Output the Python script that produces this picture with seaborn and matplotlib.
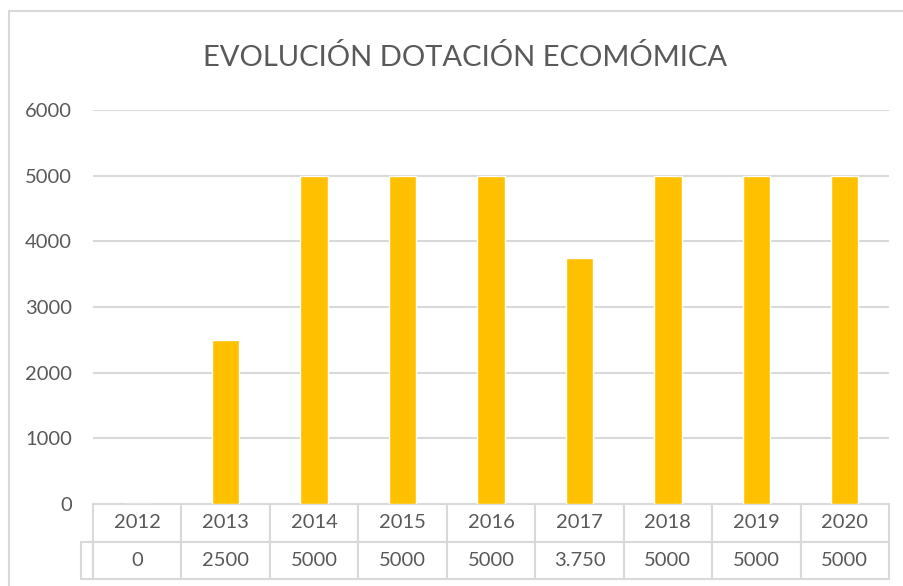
import matplotlib
matplotlib.use("Agg")
import matplotlib.pyplot as plt
import seaborn as sns
import pandas as pd
from matplotlib.patches import Rectangle
from matplotlib.lines import Line2D

# data
years = ['2012', '2013', '2014', '2015', '2016', '2017', '2018', '2019', '2020']
amounts = [0, 2500, 5000, 5000, 5000, 3750, 5000, 5000, 5000]
amount_labels = ['0', '2500', '5000', '5000', '5000', '3.750', '5000', '5000', '5000']
y_ticks = [0, 1000, 2000, 3000, 4000, 5000, 6000]

df = pd.DataFrame({'year': years, 'amount': amounts})

sns.set_theme(style="white")
plt.rcParams['font.family'] = ['Lato', 'DejaVu Sans']

text_col = '#595959'
line_col = '#D9D9D9'

fig = plt.figure(figsize=(9.04, 5.86), dpi=100)
W, H = 904, 586
ax = fig.add_axes([93 / W, 1 - 504 / H, (889 - 93) / W, (504 - 110) / H])

sns.barplot(data=df, x='year', y='amount', color='#FFC000', width=0.31,
            saturation=1, ax=ax)

ax.set_ylim(0, 6000)
ax.set_xlim(-0.5, len(years) - 0.5)
ax.set_yticks(y_ticks)
ax.set_yticklabels([str(t) for t in y_ticks], color=text_col, fontsize=14.5)
ax.tick_params(axis='y', length=0, pad=15)
ax.set_xticks([])
ax.set_xlabel('')
ax.set_ylabel('')
for s in ax.spines.values():
    s.set_visible(False)
ax.yaxis.grid(True, color=line_col, linewidth=1.5)
ax.set_axisbelow(True)

# data table under the axis
tbl_h = (579 - 504) / (504 - 110)
tbl = ax.table(cellText=[years, amount_labels], cellLoc='center',
               bbox=[0, -tbl_h, 1, tbl_h])
tbl.auto_set_font_size(False)
for (r, c), cell in tbl.get_celld().items():
    cell.set_edgecolor(line_col)
    cell.set_linewidth(1.5)
    cell.get_text().set_color(text_col)
    cell.get_text().set_fontsize(14.5)

# small empty key cell left of the value row
kw = 12 / (889 - 93)
ax.add_patch(Rectangle((-kw, -tbl_h), kw, tbl_h / 2, transform=ax.transAxes,
                       fill=False, edgecolor=line_col, linewidth=1.5, clip_on=False))

# chart area border (cut off at right and bottom)
fig.add_artist(Line2D([9 / W, 9 / W], [0, 1 - 11 / H], color=line_col, linewidth=1.5))
fig.add_artist(Line2D([9 / W, 1], [1 - 11 / H, 1 - 11 / H], color=line_col, linewidth=1.5))

fig.text(465 / W, 1 - 57 / H, 'EVOLUCIÓN DOTACIÓN ECOMÓMICA', ha='center', va='center',
         color=text_col, fontsize=21)

fig.savefig('out.png', dpi=100)
